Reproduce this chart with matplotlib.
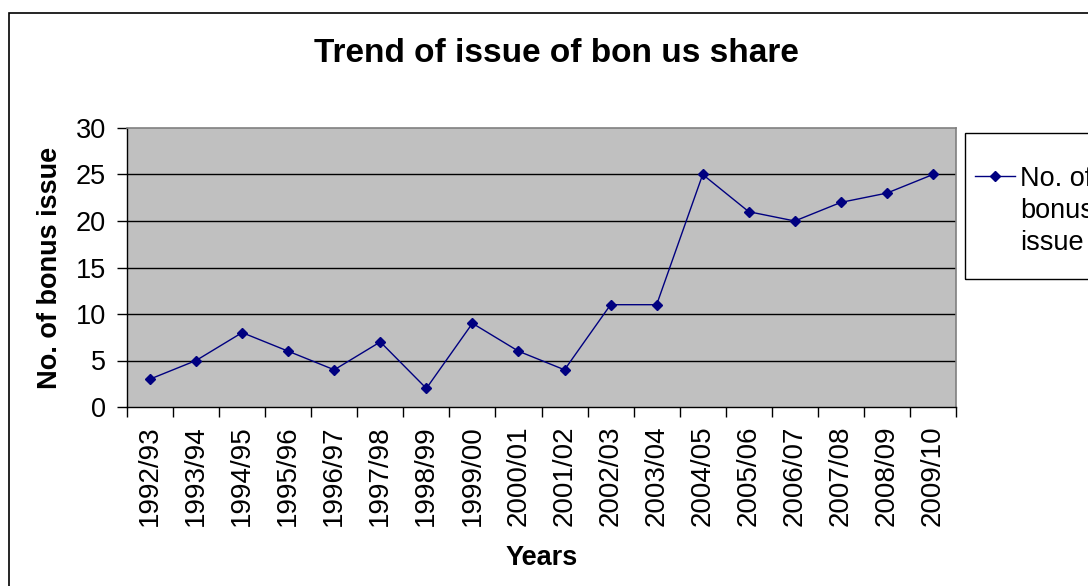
import matplotlib
matplotlib.use("Agg")
import matplotlib.pyplot as plt
from matplotlib.patches import Rectangle
from matplotlib.lines import Line2D

years = ["1992/93", "1993/94", "1994/95", "1995/96", "1996/97", "1997/98",
         "1998/99", "1999/00", "2000/01", "2001/02", "2002/03", "2003/04",
         "2004/05", "2005/06", "2006/07", "2007/08", "2008/09", "2009/10"]
bonus_issues = [3, 5, 8, 6, 4, 7, 2, 9, 6, 4, 11, 11, 25, 21, 20, 22, 23, 25]
y_ticks = [0, 5, 10, 15, 20, 25, 30]

plt.rcParams['font.family'] = ['Liberation Sans', 'DejaVu Sans']

W, H = 1088, 586
fig = plt.figure(figsize=(W / 100, H / 100), dpi=100)

# chart outer border (extends beyond right and bottom edges)
fig.add_artist(Rectangle((9 / W, -0.2), 1.5, (1 - 13 / H) + 0.2,
                         transform=fig.transFigure, fill=False,
                         edgecolor='black', linewidth=1.2, clip_on=False))

ax = fig.add_axes([127 / W, 1 - 407 / H, (956 - 127) / W, (407 - 128) / H])
ax.set_facecolor('#C0C0C0')

n = len(years)
x = [i + 0.5 for i in range(n)]
ax.plot(x, bonus_issues, color='#000080', linewidth=1.0, marker='D',
        markersize=5, markerfacecolor='#000080', markeredgecolor='#000080',
        zorder=3)

ax.set_xlim(0, n)
ax.set_ylim(0, 30)
ax.set_yticks(y_ticks)
ax.set_yticklabels([str(v) for v in y_ticks], fontsize=19.5)
ax.set_xticks(range(n + 1))
ax.set_xticklabels([])
ax.set_xticks(x, minor=True)
ax.set_xticklabels(years, minor=True, rotation=90, fontsize=20)
ax.tick_params(axis='x', which='minor', length=0, pad=13.5)
ax.tick_params(axis='x', which='major', length=7, width=1, direction='out')
ax.tick_params(axis='y', length=7, width=1, direction='out', pad=8)

for v in y_ticks[1:-1]:
    ax.axhline(v, color='black', linewidth=1.0, zorder=1)

for s in ['left', 'bottom']:
    ax.spines[s].set_color('black')
    ax.spines[s].set_linewidth(1.0)
for s in ['top', 'right']:
    ax.spines[s].set_color('#808080')
    ax.spines[s].set_linewidth(1.2)

ax.set_ylabel("No. of bonus issue", fontsize=19.5, fontweight='bold', labelpad=9)
ax.set_xlabel("Years", fontsize=19.5, fontweight='bold', labelpad=13)

fig.text(556 / W, 1 - 53 / H, "Trend of issue of bon us share", fontsize=24,
         fontweight='bold', ha='center', va='center')

# legend box
fig.add_artist(Rectangle((965 / W, 1 - 279 / H), 0.3, (279 - 133) / H,
                         transform=fig.transFigure, fill=False,
                         edgecolor='black', linewidth=1.0, clip_on=False))
fig.add_artist(Line2D([975 / W, 1015 / W], [1 - 176 / H, 1 - 176 / H],
                      transform=fig.transFigure, color='#000080', linewidth=1.0,
                      marker=None))
fig.add_artist(Line2D([995 / W], [1 - 176 / H], transform=fig.transFigure,
                      color='#000080', marker='D', markersize=5, linestyle='none'))
for i, line in enumerate(["No. of", "bonus", "issue"]):
    fig.text(1020 / W, 1 - (176 + 32 * i) / H, line, fontsize=19.5,
             ha='left', va='center_baseline', transform=fig.transFigure)

fig.savefig("out.png", dpi=100)
